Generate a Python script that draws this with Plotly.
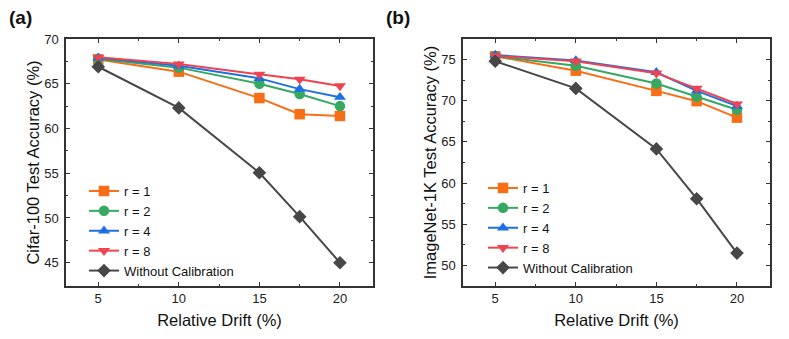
import plotly.graph_objects as go

drift = [5, 10, 15, 17.5, 20]
series_names = ["r = 1", "r = 2", "r = 4", "r = 8", "Without Calibration"]

cifar_r1 = [67.7, 66.35, 63.4, 61.6, 61.4]
cifar_r2 = [67.8, 66.8, 65.0, 63.85, 62.5]
cifar_r4 = [67.9, 67.0, 65.6, 64.4, 63.5]
cifar_r8 = [67.95, 67.2, 66.05, 65.5, 64.75]
cifar_wo = [66.9, 62.3, 55.05, 50.15, 45.0]

imnet_r1 = [75.4, 73.65, 71.2, 69.95, 67.95]
imnet_r2 = [75.4, 74.25, 72.1, 70.5, 68.9]
imnet_r4 = [75.55, 74.9, 73.45, 71.2, 69.35]
imnet_r8 = [75.45, 74.8, 73.35, 71.5, 69.6]
imnet_wo = [74.8, 71.5, 64.15, 58.1, 51.5]

x_ticks = [5, 10, 15, 20]
cifar_ticks = [45, 50, 55, 60, 65, 70]
imnet_ticks = [50, 55, 60, 65, 70, 75]

colors = ["#F86E17", "#35A862", "#1E6FE2", "#EE4350", "#474747"]
symbols = ["square", "circle", "triangle-up", "triangle-down", "diamond"]

W, H = 789, 339
FONT = "Liberation Sans, Arial, sans-serif"

fig = go.Figure()

panels = [
    ([cifar_r1, cifar_r2, cifar_r4, cifar_r8, cifar_wo], "x", "y", "legend"),
    ([imnet_r1, imnet_r2, imnet_r4, imnet_r8, imnet_wo], "x2", "y2", "legend2"),
]
for data, xa, ya, lg in panels:
    for name, vals, c, s in zip(series_names, data, colors, symbols):
        fig.add_trace(go.Scatter(
            x=drift, y=vals, name=name, mode="lines+markers",
            line=dict(color=c, width=2),
            marker=dict(symbol=s, size=10.5, color=c),
            xaxis=xa, yaxis=ya, legend=lg,
        ))

def px_x(p):
    return p / W

def px_y(p):
    return 1 - p / H

minor_style = dict(ticks="inside", ticklen=2, tickwidth=1, tickcolor="#333333", showgrid=False)
axis_common = dict(
    showline=True, linecolor="#333333", linewidth=1.5, mirror="ticks",
    ticks="inside", ticklen=4, tickwidth=1.2, tickcolor="#333333",
    showgrid=False, zeroline=False, automargin=False,
    tickfont=dict(family=FONT, size=13, color="#222222"),
    title_font=dict(family=FONT, size=16.5, color="#111111"),
)

x_dom1 = [px_x(66), px_x(373)]
x_dom2 = [px_x(463), px_x(770)]
y_dom = [px_y(286), px_y(39)]

legend_style = dict(xanchor="left", yanchor="top", bgcolor="rgba(0,0,0,0)",
                    font=dict(family=FONT, size=13, color="#111111"),
                    tracegroupgap=0, itemwidth=30)

fig.update_layout(
    width=W, height=H,
    margin=dict(l=0, r=0, t=0, b=0),
    paper_bgcolor="white", plot_bgcolor="white",
    font=dict(family=FONT),
    xaxis=dict(domain=x_dom1, range=[3.0, 22.05], tickvals=x_ticks,
               minor=dict(tickvals=[7.5, 12.5, 17.5], **minor_style),
               title=dict(text="Relative Drift (%)", standoff=9), anchor="y", **axis_common),
    yaxis=dict(domain=y_dom, range=[42.4, 70], tickvals=cifar_ticks, ticklabelstandoff=3,
               minor=dict(dtick=2.5, **minor_style),
               title=dict(text="Cifar-100 Test Accuracy (%)", standoff=0), anchor="x", **axis_common),
    xaxis2=dict(domain=x_dom2, range=[3.0, 22.05], tickvals=x_ticks,
                minor=dict(tickvals=[7.5, 12.5, 17.5], **minor_style),
                title=dict(text="Relative Drift (%)", standoff=9), anchor="y2", **axis_common),
    yaxis2=dict(domain=y_dom, range=[47.5, 77.5], tickvals=imnet_ticks, ticklabelstandoff=3,
                minor=dict(dtick=2.5, **minor_style),
                title=dict(text="ImageNet-1K Test Accuracy (%)", standoff=0), anchor="x2", **axis_common),
    legend=dict(x=px_x(84), y=px_y(176), **legend_style),
    legend2=dict(x=px_x(483), y=px_y(173), **legend_style),
    annotations=[
        dict(text="<b>(a)</b>", x=px_x(7), y=px_y(17), xref="paper", yref="paper",
             xanchor="left", yanchor="middle", showarrow=False,
             font=dict(family=FONT, size=19, color="#111111")),
        dict(text="<b>(b)</b>", x=px_x(384), y=px_y(17), xref="paper", yref="paper",
             xanchor="left", yanchor="middle", showarrow=False,
             font=dict(family=FONT, size=19, color="#111111")),
    ],
)

fig.write_html("out.html", post_script="document.body.style.margin='0px';",
               config={"displayModeBar": False})
